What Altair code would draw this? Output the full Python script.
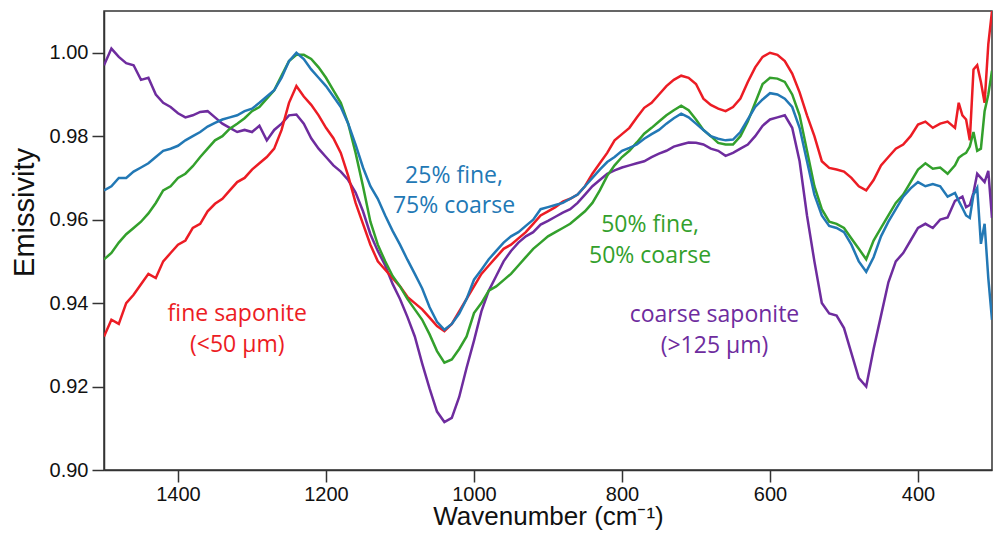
import altair as alt
import pandas as pd

# wavenumber grid (cm-1), sampled from the figure
wavenumber = list(range(1500, 340, -10)) + [345, 340, 335, 330, 325, 320, 315, 310, 305, 300]

fine = [
    0.932, 0.936, 0.935, 0.940, 0.942, 0.9445, 0.947, 0.946, 0.950, 0.952,
    0.954, 0.955, 0.958, 0.959, 0.962, 0.9638, 0.965, 0.967, 0.969, 0.970,
    0.972, 0.9735, 0.975, 0.977, 0.9815, 0.988, 0.992, 0.9895, 0.9875, 0.985,
    0.982, 0.9795, 0.976, 0.9705, 0.964, 0.959, 0.954, 0.950, 0.948, 0.946,
    0.944, 0.9415, 0.940, 0.9385, 0.9365, 0.9345, 0.9333, 0.935, 0.938, 0.941,
    0.944, 0.947, 0.949, 0.951, 0.953, 0.954, 0.9555, 0.957, 0.959, 0.961,
    0.962, 0.963, 0.9643, 0.965, 0.966, 0.968, 0.971, 0.9735, 0.976, 0.979,
    0.9805, 0.982, 0.9845, 0.9868, 0.988, 0.990, 0.992, 0.9935, 0.9945, 0.994,
    0.9925, 0.989, 0.9875, 0.9866, 0.986, 0.987, 0.989, 0.993, 0.9965, 0.999,
    1.000, 0.9995, 0.998, 0.995, 0.9905, 0.985, 0.980, 0.974, 0.9724, 0.972,
    0.9715, 0.970, 0.968, 0.967, 0.9695, 0.973, 0.975, 0.977, 0.978, 0.980,
    0.9828, 0.9835, 0.982, 0.983, 0.9835, 0.982,
    0.988, 0.985, 0.984, 0.979, 0.996, 0.997, 0.993, 0.988, 1.002, 1.010,
]

mix25 = [
    0.967, 0.968, 0.970, 0.970, 0.9715, 0.9725, 0.9735, 0.975, 0.9765, 0.977,
    0.9777, 0.979, 0.980, 0.981, 0.9823, 0.9832, 0.984, 0.9845, 0.985, 0.986,
    0.9866, 0.988, 0.9895, 0.991, 0.994, 0.998, 1.000, 0.9985, 0.996, 0.994,
    0.992, 0.9895, 0.987, 0.983, 0.978, 0.9725, 0.968, 0.965, 0.961, 0.9573,
    0.954, 0.9504, 0.947, 0.9435, 0.939, 0.9355, 0.9336, 0.935, 0.9375, 0.941,
    0.9456, 0.948, 0.9505, 0.9525, 0.9545, 0.956, 0.957, 0.9585, 0.960, 0.9625,
    0.963, 0.9635, 0.964, 0.965, 0.966, 0.968, 0.970, 0.972, 0.9738, 0.975,
    0.9765, 0.9772, 0.978, 0.9794, 0.9805, 0.9815, 0.983, 0.9843, 0.9854, 0.9845,
    0.983, 0.9815, 0.980, 0.9794, 0.979, 0.9792, 0.981, 0.984, 0.987, 0.9888,
    0.9903, 0.990, 0.989, 0.987, 0.982, 0.974, 0.966, 0.961, 0.9585, 0.958,
    0.957, 0.954, 0.950, 0.9475, 0.951, 0.956, 0.9595, 0.9625, 0.9655, 0.9675,
    0.969, 0.968, 0.9685, 0.968, 0.9655, 0.9664,
    0.9645, 0.9628, 0.961, 0.9604, 0.966, 0.9676, 0.9542, 0.959, 0.946, 0.936,
]

mix50 = [
    0.9505, 0.952, 0.9545, 0.9565, 0.958, 0.9595, 0.9615, 0.964, 0.967, 0.968,
    0.970, 0.971, 0.9728, 0.975, 0.977, 0.979, 0.980, 0.9818, 0.983, 0.9843,
    0.986, 0.987, 0.989, 0.991, 0.9945, 0.998, 0.9995, 0.9995, 0.9985, 0.9965,
    0.994, 0.991, 0.988, 0.983, 0.976, 0.968, 0.9595, 0.954, 0.950, 0.9465,
    0.944, 0.941, 0.9385, 0.936, 0.9325, 0.9285, 0.9257, 0.9265, 0.929, 0.932,
    0.9376, 0.940, 0.943, 0.944, 0.9455, 0.947, 0.949, 0.951, 0.953, 0.9545,
    0.956, 0.957, 0.958, 0.959, 0.9605, 0.962, 0.964, 0.967, 0.9705, 0.973,
    0.975, 0.9765, 0.9785, 0.9806, 0.982, 0.9835, 0.985, 0.9862, 0.9873, 0.9862,
    0.984, 0.9815, 0.980, 0.9784, 0.978, 0.978, 0.980, 0.9835, 0.988, 0.9925,
    0.994, 0.9938, 0.993, 0.990, 0.985, 0.9765, 0.968, 0.9625, 0.9595, 0.959,
    0.958, 0.9555, 0.953, 0.9505, 0.955, 0.958, 0.961, 0.964, 0.966, 0.969,
    0.972, 0.9735, 0.9722, 0.9725, 0.971, 0.973,
    0.9748, 0.9755, 0.976, 0.9775, 0.981, 0.9765, 0.977, 0.986, 0.990, 0.9957,
]

coarse = [
    0.997, 1.001, 0.999, 0.9975, 0.997, 0.9935, 0.994, 0.990, 0.988, 0.987,
    0.9855, 0.9845, 0.985, 0.9858, 0.986, 0.9845, 0.983, 0.982, 0.981, 0.9815,
    0.981, 0.9825, 0.979, 0.9815, 0.983, 0.985, 0.9852, 0.983, 0.9795, 0.977,
    0.975, 0.973, 0.9715, 0.9695, 0.9665, 0.962, 0.9565, 0.9525, 0.949, 0.9446,
    0.941, 0.9367, 0.932, 0.9255, 0.9195, 0.914, 0.9115, 0.9125, 0.9175, 0.9245,
    0.931, 0.938, 0.943, 0.9465, 0.950, 0.9525, 0.9545, 0.956, 0.957, 0.9588,
    0.9597, 0.9607, 0.9617, 0.9625, 0.964, 0.966, 0.968, 0.9695, 0.971, 0.9718,
    0.9725, 0.973, 0.9735, 0.974, 0.975, 0.9758, 0.9765, 0.9775, 0.978, 0.9785,
    0.9784, 0.978, 0.977, 0.9765, 0.9753, 0.976, 0.977, 0.978, 0.980, 0.9825,
    0.984, 0.9845, 0.985, 0.982, 0.974, 0.961, 0.950, 0.940, 0.9375, 0.937,
    0.934, 0.928, 0.922, 0.920, 0.929, 0.937, 0.945, 0.950, 0.952, 0.955,
    0.958, 0.959, 0.958, 0.960, 0.9605, 0.9645,
    0.965, 0.9655, 0.963, 0.9635, 0.9665, 0.971, 0.970, 0.969, 0.9717, 0.9604,
]

series_names = ["coarse", "fine", "mix50", "mix25"]
series_values = [coarse, fine, mix50, mix25]
series_colors = ["#6E2C9E", "#EC1C24", "#33A02C", "#2278B5"]

# annotation labels
label_text = ["fine saponite", "(<50 µm)", "25% fine,", "75% coarse",
              "50% fine,", "50% coarse", "coarse saponite", "(>125 µm)"]
label_wn = [1320, 1320, 1027, 1027, 762, 762, 675, 675]
label_em = [0.9357, 0.9283, 0.9688, 0.9616, 0.9570, 0.9496, 0.9355, 0.9280]
label_color = ["#EC1C24", "#EC1C24", "#2278B5", "#2278B5",
               "#33A02C", "#33A02C", "#6E2C9E", "#6E2C9E"]

x_ticks = [1400, 1200, 1000, 800, 600, 400]
y_ticks = [0.90, 0.92, 0.94, 0.96, 0.98, 1.00]

rows = []
for name, vals in zip(series_names, series_values):
    for w, v in zip(wavenumber, vals):
        rows.append({"wn": w, "em": v, "series": name})
df = pd.DataFrame(rows)

labels = pd.DataFrame({"text": label_text, "wn": label_wn, "em": label_em, "col": label_color})

axis_common = dict(
    grid=False,
    labelFont="Liberation Sans",
    labelFontSize=20,
    labelColor="#111",
    tickSize=12,
    tickWidth=1.5,
    tickColor="#333",
    domainColor="#333",
    domainWidth=1.5,
    titleFont="Liberation Sans",
    titleFontWeight="normal",
    titleColor="#111",
)

xenc = alt.X(
    "wn:Q",
    scale=alt.Scale(domain=[300, 1500], reverse=True, nice=False, zero=False),
    axis=alt.Axis(values=x_ticks, format="d", title="Wavenumber (cm⁻¹)",
                  labelPadding=2,
                  titleFontSize=26, titleY=54, titleBaseline="alphabetic", **axis_common),
)
yenc = alt.Y(
    "em:Q",
    scale=alt.Scale(domain=[0.90, 1.01], nice=False, zero=False),
    axis=alt.Axis(values=y_ticks, format=".2f", title="Emissivity",
                  labelPadding=4,
                  titleFontSize=29, titleX=-71, titleY=201, titleBaseline="alphabetic",
                  **axis_common),
)

layers = []
for name, color in zip(series_names, series_colors):
    layers.append(
        alt.Chart(df).transform_filter(alt.datum.series == name)
        .mark_line(strokeWidth=2.5, color=color, clip=True)
        .encode(x=xenc, y=yenc)
    )

text = alt.Chart(labels).mark_text(
    font="Open Sans", fontSize=23, align="center", baseline="alphabetic"
).encode(
    x=alt.X("wn:Q"), y=alt.Y("em:Q"),
    text="text:N", color=alt.Color("col:N", scale=None),
)

chart = alt.layer(*layers, text).properties(
    width=888, height=459,
    padding={"left": 96, "top": 3, "right": 1, "bottom": 61},
    autosize=alt.AutoSizeParams(type="none"),
    background="white",
).configure_view(stroke="#333", strokeWidth=1.5)

chart.save("out.html", embed_options={"renderer": "svg", "actions": False})
